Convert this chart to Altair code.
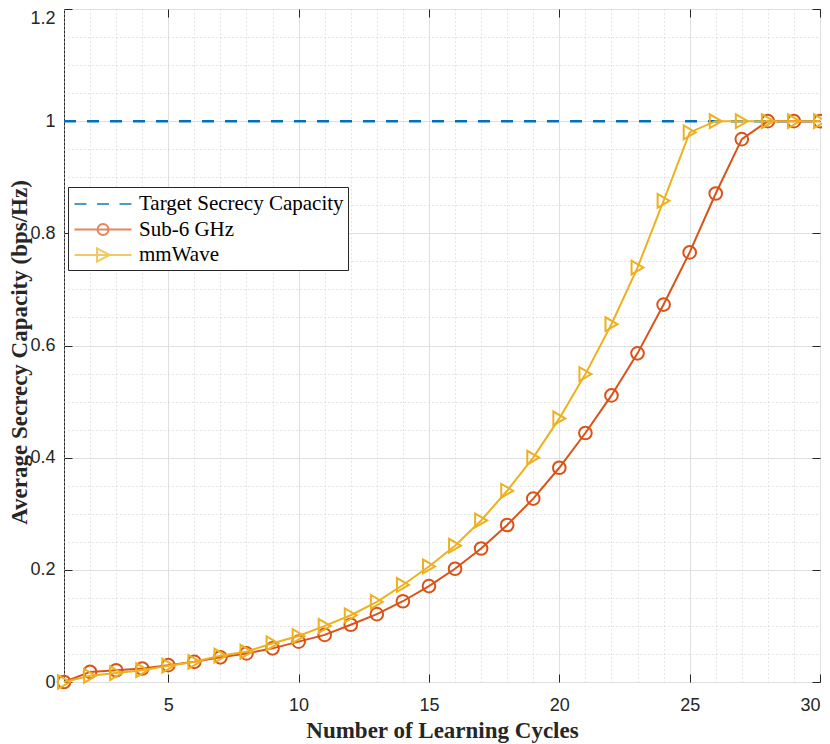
import altair as alt
import pandas as pd

# ---------------- data ----------------
cycles = [1, 2, 3, 4, 5, 6, 7, 8, 9, 10, 11, 12, 13, 14, 15,
          16, 17, 18, 19, 20, 21, 22, 23, 24, 25, 26, 27, 28, 29, 30]
sub6 = [0.000, 0.018, 0.021, 0.024, 0.030, 0.036, 0.044, 0.051, 0.060, 0.072,
        0.084, 0.102, 0.121, 0.144, 0.171, 0.202, 0.238, 0.280, 0.327, 0.382,
        0.444, 0.511, 0.586, 0.673, 0.766, 0.871, 0.968, 1.000, 1.000, 1.000]
mmwave = [0.000, 0.011, 0.016, 0.021, 0.029, 0.036, 0.047, 0.054, 0.069, 0.082,
          0.100, 0.119, 0.143, 0.173, 0.206, 0.243, 0.288, 0.341, 0.400, 0.470,
          0.549, 0.638, 0.739, 0.858, 0.980, 1.000, 1.000, 1.000, 1.000, 1.000]
target = [1.0, 1.0, 1.0, 1.0, 1.0, 1.0, 1.0, 1.0, 1.0, 1.0,
          1.0, 1.0, 1.0, 1.0, 1.0, 1.0, 1.0, 1.0, 1.0, 1.0,
          1.0, 1.0, 1.0, 1.0, 1.0, 1.0, 1.0, 1.0, 1.0, 1.0]

series_names = ["Target Secrecy Capacity", "Sub-6 GHz", "mmWave"]
series_colors = ["#0072BD", "#D95319", "#EDB120"]

x_major = [5, 10, 15, 20, 25, 30]
x_minor = [1, 2, 3, 4, 6, 7, 8, 9, 11, 12, 13, 14, 16, 17, 18, 19,
           21, 22, 23, 24, 26, 27, 28, 29]
y_major = [0, 0.2, 0.4, 0.6, 0.8, 1.0, 1.2]
y_minor = [0.05, 0.1, 0.15, 0.25, 0.3, 0.35, 0.45, 0.5, 0.55, 0.65, 0.7,
           0.75, 0.85, 0.9, 0.95, 1.05, 1.1, 1.15]

df = pd.DataFrame({"cycle": cycles, "sub6": sub6, "mmwave": mmwave, "target": target})
leg_df = pd.DataFrame({"series": series_names})

# legend glyphs (line + marker), drawn in symbol units
legend_paths = [
    "M-2.375,0H-1.375M-0.5,0H0.5M1.375,0H2.375",
    "M-2.375,0H2.375M-0.46,0A0.46,0.46 0 1,1 0.46,0A0.46,0.46 0 1,1 -0.46,0",
    "M-2.375,0H2.375M-0.5,-0.55L0.55,0L-0.5,0.55Z",
]

SANS = "Liberation Sans"
SERIF = "Liberation Serif"
INK = "#262626"

xs = alt.Scale(domain=[1, 30], nice=False, zero=False)
ys = alt.Scale(domain=[0, 1.2], nice=False, zero=False)


def guide(xaxis, yaxis):
    return alt.Chart(df).mark_point(opacity=0).encode(
        x=alt.X("cycle:Q", scale=xs, axis=xaxis),
        y=alt.Y("sub6:Q", scale=ys, axis=yaxis),
    )


minor_kw = dict(grid=True, gridColor="#cdcdcd", gridDash=[1, 3], gridWidth=1,
                labels=False, ticks=False, domain=False, title=None)
minor = guide(alt.Axis(orient="bottom", values=x_minor, **minor_kw),
              alt.Axis(orient="left", values=y_minor, **minor_kw))

major_kw = dict(grid=True, gridColor="#dfdfdf", gridWidth=1, labels=False,
                ticks=False, domain=False, titleFont=SERIF, titleFontSize=23,
                titleFontWeight="bold", titleColor=INK, titleBaseline="alphabetic")
major = guide(
    alt.Axis(orient="bottom", values=x_major, title="Number of Learning Cycles",
             titleY=55, **major_kw),
    alt.Axis(orient="left", values=y_major, title="Average Secrecy Capacity (bps/Hz)",
             titleAngle=270, titleX=-38, titleY=343, titleAlign="center", **major_kw),
)

tick_kw = dict(tickSize=8, tickColor=INK, tickWidth=1, offset=-8, domain=False,
               grid=False, title=None)
ticks_bl = guide(
    alt.Axis(orient="bottom", values=x_major, labelFont=SANS, labelFontSize=18,
             labelColor=INK, labelPadding=14, labelFlush=False, format="d",
             labelOffset={"condition": {"test": "datum.value > 29", "value": -10}, "value": 0},
             **tick_kw),
    alt.Axis(orient="left", values=y_major, labelFont=SANS, labelFontSize=18,
             labelColor=INK, labelPadding=9, labelFlush=False, format="~g",
             labelOffset={"condition": {"test": "datum.value > 1.1", "value": 9}, "value": 0},
             **tick_kw),
)
ticks_tr = guide(
    alt.Axis(orient="top", values=x_major, labels=False, **tick_kw),
    alt.Axis(orient="right", values=y_major, labels=False, **tick_kw),
)

X = alt.X("cycle:Q", scale=xs, axis=None)

target_line = alt.Chart(df).mark_line(
    color=series_colors[0], strokeWidth=2.5, strokeDash=[12, 11]
).encode(x=X, y=alt.Y("target:Q", scale=ys, axis=None))

sub6_line = alt.Chart(df).mark_line(color=series_colors[1], strokeWidth=2).encode(
    x=X, y=alt.Y("sub6:Q", scale=ys, axis=None))
sub6_pts = alt.Chart(df).mark_point(
    shape="circle", filled=False, color=series_colors[1], strokeWidth=2, size=160, opacity=1
).encode(x=X, y=alt.Y("sub6:Q", scale=ys, axis=None))

mm_line = alt.Chart(df).mark_line(color=series_colors[2], strokeWidth=2).encode(
    x=X, y=alt.Y("mmwave:Q", scale=ys, axis=None))
mm_pts = alt.Chart(df).mark_point(
    shape="triangle-right", filled=False, color=series_colors[2], strokeWidth=2, size=190, opacity=1
).encode(x=X, y=alt.Y("mmwave:Q", scale=ys, axis=None))

legend_def = alt.Legend(
    title=None, orient="none", legendX=4, legendY=178,
    fillColor="white", strokeColor=INK, padding=4,
    labelFont=SERIF, labelFontSize=21, labelColor="black", labelLimit=500,
    symbolSize=576, symbolStrokeWidth=2, symbolFillColor="transparent",
    symbolOffset=18, labelOffset=23, rowPadding=2.5,
)
legend_layer = alt.Chart(leg_df).mark_point(filled=False, strokeWidth=2).encode(
    color=alt.Color("series:N", scale=alt.Scale(domain=series_names, range=series_colors),
                    legend=legend_def),
    shape=alt.Shape("series:N", scale=alt.Scale(domain=series_names, range=legend_paths),
                    legend=legend_def),
).transform_filter("false")

chart = alt.layer(
    minor, major, ticks_bl, ticks_tr,
    target_line, sub6_line, sub6_pts, mm_line, mm_pts, legend_layer,
).resolve_axis(x="independent", y="independent").properties(
    width=756, height=673,
    autosize=alt.AutoSizeParams(type="none"),
    padding={"left": 56, "top": 1, "right": 2, "bottom": 62},
).configure_view(stroke=INK, strokeWidth=1)

chart.save("out.html", embed_options={"renderer": "svg", "actions": False})
